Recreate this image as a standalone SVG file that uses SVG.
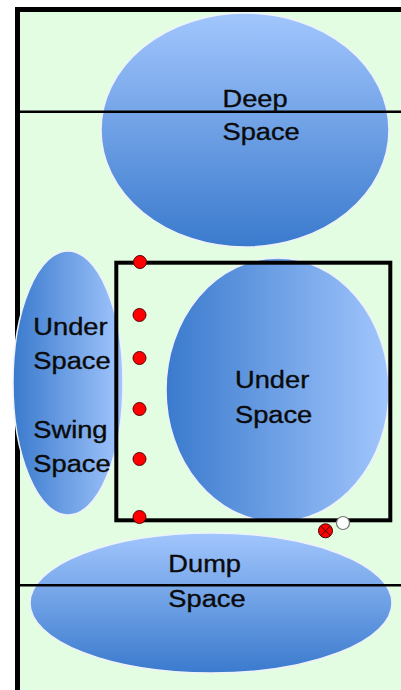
<svg xmlns="http://www.w3.org/2000/svg" width="401" height="690" viewBox="0 0 401 690">
  <defs>
    <linearGradient id="gv" x1="0" y1="0" x2="0" y2="1">
      <stop offset="0" stop-color="#a2c6fd"/>
      <stop offset="1" stop-color="#3a7acd"/>
    </linearGradient>
    <linearGradient id="gh" x1="0" y1="0" x2="1" y2="0">
      <stop offset="0" stop-color="#3a7acd"/>
      <stop offset="1" stop-color="#a2c6fd"/>
    </linearGradient>
    <style>
      .zone { stroke: #eef2f8; stroke-width: 1.5; }
      .lbl { font-family: "Liberation Sans", Arial, sans-serif; font-size: 23.5px; fill: #0a0a0a; stroke: #0a0a0a; stroke-width: 0.35; }
      .line { stroke: #000; stroke-width: 2.5; fill: none; }
      .dot { fill: #ff0000; stroke: #5a0000; stroke-width: 1; }
    </style>
  </defs>
  <rect x="0" y="0" width="401" height="690" fill="#ffffff"/>
  <g id="field">
    <rect x="17.5" y="9.5" width="400" height="700" fill="#e3fde3" stroke="#000" stroke-width="5"/>
  </g>
  <g id="deep-space">
    <ellipse cx="245" cy="130" rx="144" ry="117" fill="url(#gv)" class="zone"/>
  </g>
  <g id="swing-space">
    <ellipse cx="68" cy="383" rx="55" ry="132" fill="url(#gh)" class="zone"/>
  </g>
  <g id="under-space">
    <ellipse cx="277.5" cy="390" rx="111.5" ry="132" fill="url(#gh)" class="zone"/>
  </g>
  <g id="dump-space">
    <ellipse cx="211" cy="603" rx="181" ry="70" fill="url(#gv)" class="zone"/>
  </g>
  <g id="connectors">
    <line class="line" x1="17.5" y1="111.7" x2="401" y2="111.7"/>
    <line class="line" x1="17.5" y1="585.3" x2="401" y2="585.3"/>
    <rect x="116.3" y="262.7" width="274" height="257.6" fill="none" stroke="#000" stroke-width="4"/>
  </g>
  <g id="labels">
    <text class="lbl" transform="translate(222.5,106.7) scale(1.16,1)"><tspan x="0" y="0">Deep</tspan><tspan x="0" y="33.3">Space</tspan></text>
    <text class="lbl" transform="translate(33.3,335) scale(1.16,1)"><tspan x="0" y="0">Under</tspan><tspan x="0" y="34.3">Space</tspan><tspan x="0" y="103">Swing</tspan><tspan x="0" y="136.7">Space</tspan></text>
    <text class="lbl" transform="translate(235,388.3) scale(1.16,1)"><tspan x="0" y="0">Under</tspan><tspan x="0" y="34.4">Space</tspan></text>
    <text class="lbl" transform="translate(168.3,571.7) scale(1.16,1)"><tspan x="0" y="0">Dump</tspan><tspan x="0" y="35">Space</tspan></text>
  </g>
  <g id="players">
    <circle class="dot" cx="140" cy="262" r="6.5"/>
    <circle class="dot" cx="139.5" cy="315" r="6.5"/>
    <circle class="dot" cx="139.5" cy="358" r="6.5"/>
    <circle class="dot" cx="139.5" cy="409" r="6.5"/>
    <circle class="dot" cx="139.5" cy="459" r="6.5"/>
    <circle class="dot" cx="139.5" cy="517" r="6.5"/>
    <g id="marker-x">
      <circle cx="325.5" cy="530.8" r="7" fill="#ff0000" stroke="#3a0000" stroke-width="1"/>
      <line x1="320.6" y1="525.9" x2="330.4" y2="535.7" stroke="#3a0000" stroke-width="1"/>
      <line x1="330.4" y1="525.9" x2="320.6" y2="535.7" stroke="#3a0000" stroke-width="1"/>
    </g>
    <circle id="disc" cx="343" cy="523" r="6.5" fill="#ffffff" stroke="#777" stroke-width="1.2"/>
  </g>
</svg>
